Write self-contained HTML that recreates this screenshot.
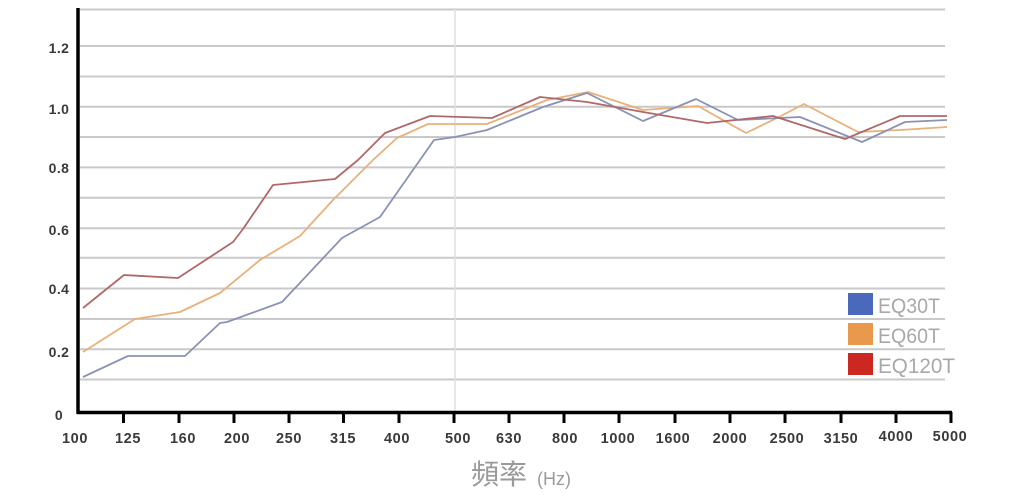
<!DOCTYPE html>
<html>
<head>
<meta charset="utf-8">
<style>
html,body{margin:0;padding:0;background:#fff;}
svg{display:block;}
</style>
</head>
<body>
<svg width="1025" height="500" viewBox="0 0 1025 500" xmlns="http://www.w3.org/2000/svg">
  <rect width="1025" height="500" fill="#fff"/>
  <!-- gridlines -->
  <g stroke="#c9c9c9" stroke-width="2">
    <line x1="80" y1="9.5" x2="945" y2="9.5"/>
    <line x1="80" y1="46" x2="945" y2="46"/>
    <line x1="80" y1="76.5" x2="945" y2="76.5"/>
    <line x1="80" y1="106.8" x2="945" y2="106.8"/>
    <line x1="80" y1="137" x2="945" y2="137"/>
    <line x1="80" y1="167.4" x2="945" y2="167.4"/>
    <line x1="80" y1="197.8" x2="945" y2="197.8"/>
    <line x1="80" y1="228.3" x2="945" y2="228.3"/>
    <line x1="80" y1="257.8" x2="945" y2="257.8"/>
    <line x1="80" y1="288.5" x2="945" y2="288.5"/>
    <line x1="80" y1="319" x2="945" y2="319"/>
    <line x1="80" y1="349.2" x2="945" y2="349.2"/>
    <line x1="80" y1="379.5" x2="945" y2="379.5"/>
  </g>
  <!-- vertical light line -->
  <line x1="455" y1="8" x2="455" y2="411" stroke="#e0e0e0" stroke-width="1.5"/>

  <!-- series -->
  <polyline fill="none" stroke="#e9b17a" stroke-width="1.8" stroke-linejoin="round"
    points="83,352 135,319 180,312 220,293 260,260 300,236 333,200 373,160 397,138 428,124 487,124 547,100 588,92 643,110 698,106 746,133 777,118 804,104 858,132 900,130 947,127"/>
  <polyline fill="none" stroke="#8a92b6" stroke-width="1.8" stroke-linejoin="round"
    points="83,377 128,356 185,356 220,323 227,322 282,302 342,238 380,217 434,140 455,137 487,130 543,107 568,99 587,93 643,121 696,99 738,120 800,117 862,142 905,122 947,120"/>
  <polyline fill="none" stroke="#b06868" stroke-width="1.8" stroke-linejoin="round"
    points="83,308 124,275 178,278 233,242 243,229 273,185 335,179 358,160 385,133 430,116 492,118 540,97 587,102 643,112 707,123 773,116 845,139 900,116 947,116"/>

  <!-- axes -->
  <line x1="78" y1="8" x2="78" y2="414" stroke="#000" stroke-width="3.5"/>
  <line x1="77" y1="412.5" x2="952" y2="412.5" stroke="#000" stroke-width="3.5"/>
  <g stroke="#000" stroke-width="3">
    <line x1="123.5" y1="412" x2="123.5" y2="423"/>
    <line x1="179" y1="412" x2="179" y2="423"/>
    <line x1="234" y1="412" x2="234" y2="423"/>
    <line x1="289" y1="412" x2="289" y2="423"/>
    <line x1="343.5" y1="412" x2="343.5" y2="423"/>
    <line x1="399" y1="412" x2="399" y2="423"/>
    <line x1="454" y1="412" x2="454" y2="423"/>
    <line x1="509" y1="412" x2="509" y2="423"/>
    <line x1="564" y1="412" x2="564" y2="423"/>
    <line x1="619" y1="412" x2="619" y2="423"/>
    <line x1="675" y1="412" x2="675" y2="423"/>
    <line x1="730" y1="412" x2="730" y2="423"/>
    <line x1="785" y1="412" x2="785" y2="423"/>
    <line x1="841" y1="412" x2="841" y2="423"/>
    <line x1="896" y1="412" x2="896" y2="423"/>
    <line x1="951" y1="412" x2="951" y2="423"/>
  </g>

  <!-- y labels -->
  <g font-family="Liberation Sans, sans-serif" font-weight="bold" font-size="14" fill="#3a3a3a" text-anchor="middle" letter-spacing="0.4">
    <text x="59" y="53">1.2</text>
    <text x="59" y="114">1.0</text>
    <text x="59" y="173">0.8</text>
    <text x="59" y="235">0.6</text>
    <text x="59" y="294">0.4</text>
    <text x="59" y="357">0.2</text>
    <text x="59" y="420">0</text>
  </g>

  <!-- x labels -->
  <g font-family="Liberation Sans, sans-serif" font-weight="bold" font-size="14.5" fill="#3a3a3a" text-anchor="middle" letter-spacing="0.6">
    <text x="75" y="443">100</text>
    <text x="128" y="443">125</text>
    <text x="183" y="443">160</text>
    <text x="237" y="443">200</text>
    <text x="289" y="443">250</text>
    <text x="343" y="443">315</text>
    <text x="397" y="443">400</text>
    <text x="458" y="443">500</text>
    <text x="509" y="443">630</text>
    <text x="565" y="443">800</text>
    <text x="618" y="443">1000</text>
    <text x="673" y="443">1600</text>
    <text x="730" y="443">2000</text>
    <text x="787" y="443">2500</text>
    <text x="841" y="443">3150</text>
    <text x="896" y="441">4000</text>
    <text x="950" y="441">5000</text>
  </g>

  <!-- axis title -->
  <text x="471" y="484" font-family="Liberation Sans, 'Noto Sans CJK TC', sans-serif" font-size="28" fill="#9a9a9a">頻率</text>
  <text x="537" y="485" font-family="Liberation Sans, sans-serif" font-size="18" fill="#9a9a9a">(Hz)</text>

  <!-- legend -->
  <rect x="848" y="293" width="25" height="22" fill="#4a69bd"/>
  <rect x="848" y="323" width="25" height="22" fill="#e9994c"/>
  <rect x="848" y="353" width="25" height="22" fill="#cc2822"/>
  <g font-family="Liberation Sans, sans-serif" font-size="21" fill="#a8a8a8">
    <text x="878" y="313" textLength="62" lengthAdjust="spacingAndGlyphs">EQ30T</text>
    <text x="878" y="343" textLength="62" lengthAdjust="spacingAndGlyphs">EQ60T</text>
    <text x="878" y="373" textLength="77" lengthAdjust="spacingAndGlyphs">EQ120T</text>
  </g>
</svg>
</body>
</html>
